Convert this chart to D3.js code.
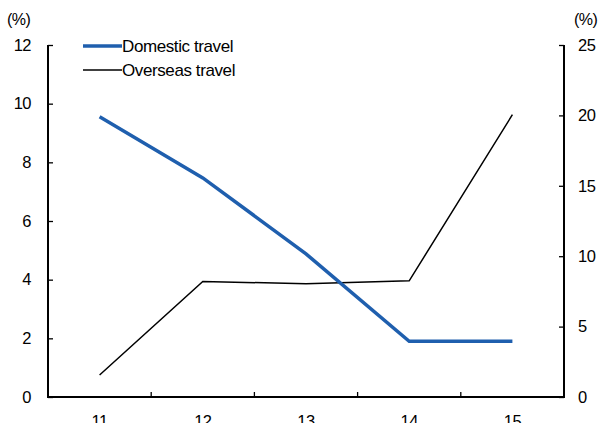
<!DOCTYPE html>
<html>
<head>
<meta charset="utf-8">
<script src="https://cdn.jsdelivr.net/npm/d3@7"></script>
<style>
  body { margin: 0; background: #fff; }
  svg text { font-family: "Liberation Sans", Arial, sans-serif; font-size: 16px; fill: #000; }
</style>
</head>
<body>
<svg width="604" height="423"></svg>
<script>
const years = ["11", "12", "13", "14", "15"];
const domestic = [9.55, 7.47, 4.88, 1.9, 1.9];
const overseas = [1.56, 8.2, 8.05, 8.25, 20.05];
const leftTicks = [0, 2, 4, 6, 8, 10, 12];
const rightTicks = [0, 5, 10, 15, 20, 25];

const svg = d3.select("svg");
const margin = { left: 48, right: 40, top: 45, bottom: 26 };
const width = 604, height = 423;

// Scales
const x = d3.scaleBand().domain(years).range([margin.left, width - margin.right]);
const yL = d3.scaleLinear().domain([0, 12]).range([height - margin.bottom, margin.top]);
const yR = d3.scaleLinear().domain([0, 25]).range([height - margin.bottom, margin.top]);

// Axes
const bottom = svg.append("g")
  .attr("transform", `translate(0,${height - margin.bottom})`)
  .call(d3.axisBottom(x).tickSize(0).tickPadding(18));
bottom.select(".domain").remove();

// inner ticks between categories
svg.append("g").selectAll("line")
  .data(years.slice(1))
  .join("line")
  .attr("x1", d => x(d)).attr("x2", d => x(d))
  .attr("y1", height - margin.bottom).attr("y2", height - margin.bottom - 5)
  .attr("stroke", "#000").attr("stroke-width", 1.3);

const left = svg.append("g")
  .attr("transform", `translate(${margin.left},0)`)
  .call(d3.axisLeft(yL).tickValues(leftTicks).tickSize(-5).tickPadding(17));
const right = svg.append("g")
  .attr("transform", `translate(${width - margin.right},0)`)
  .call(d3.axisRight(yR).tickValues(rightTicks).tickSize(-5).tickPadding(14));

svg.selectAll(".tick text")
  .style("font-size", "16.5px")
  .style("letter-spacing", "-0.5px")
  .style("font-family", "Liberation Sans, Arial, sans-serif");
svg.selectAll(".tick line").attr("stroke-width", 1.3);
left.select(".domain").remove();
right.select(".domain").remove();

// Frame (left, bottom, right)
svg.append("path")
  .attr("d", `M${margin.left},${margin.top}V${height - margin.bottom}H${width - margin.right}V${margin.top}`)
  .attr("fill", "none").attr("stroke", "#000").attr("stroke-width", 2);

// Units
svg.append("text").attr("x", 7).attr("y", 25).style("letter-spacing", "-0.5px").text("(%)");
svg.append("text").attr("x", 574).attr("y", 25).style("letter-spacing", "-0.5px").text("(%)");

// Lines
const cx = d => x(d) + x.bandwidth() / 2;
svg.append("path")
  .datum(years.map((d, i) => [cx(d), yR(overseas[i])]))
  .attr("d", d3.line())
  .attr("fill", "none").attr("stroke", "#000").attr("stroke-width", 1.5);
svg.append("path")
  .datum(years.map((d, i) => [cx(d), yL(domestic[i])]))
  .attr("d", d3.line())
  .attr("fill", "none").attr("stroke", "#1f5fae").attr("stroke-width", 3.5);

// Legend
const legend = [
  { name: "Domestic travel", color: "#1f5fae", w: 3.5, y: 46 },
  { name: "Overseas travel", color: "#000", w: 1.5, y: 70 }
];
const lg = svg.append("g").selectAll("g").data(legend).join("g");
lg.append("line")
  .attr("x1", 83).attr("x2", 122)
  .attr("y1", d => d.y).attr("y2", d => d.y)
  .attr("stroke", d => d.color).attr("stroke-width", d => d.w);
lg.append("text")
  .attr("x", 122).attr("y", d => d.y + 6)
  .style("font-size", "17px")
  .style("letter-spacing", "-0.4px")
  .text(d => d.name);
</script>
</body>
</html>
